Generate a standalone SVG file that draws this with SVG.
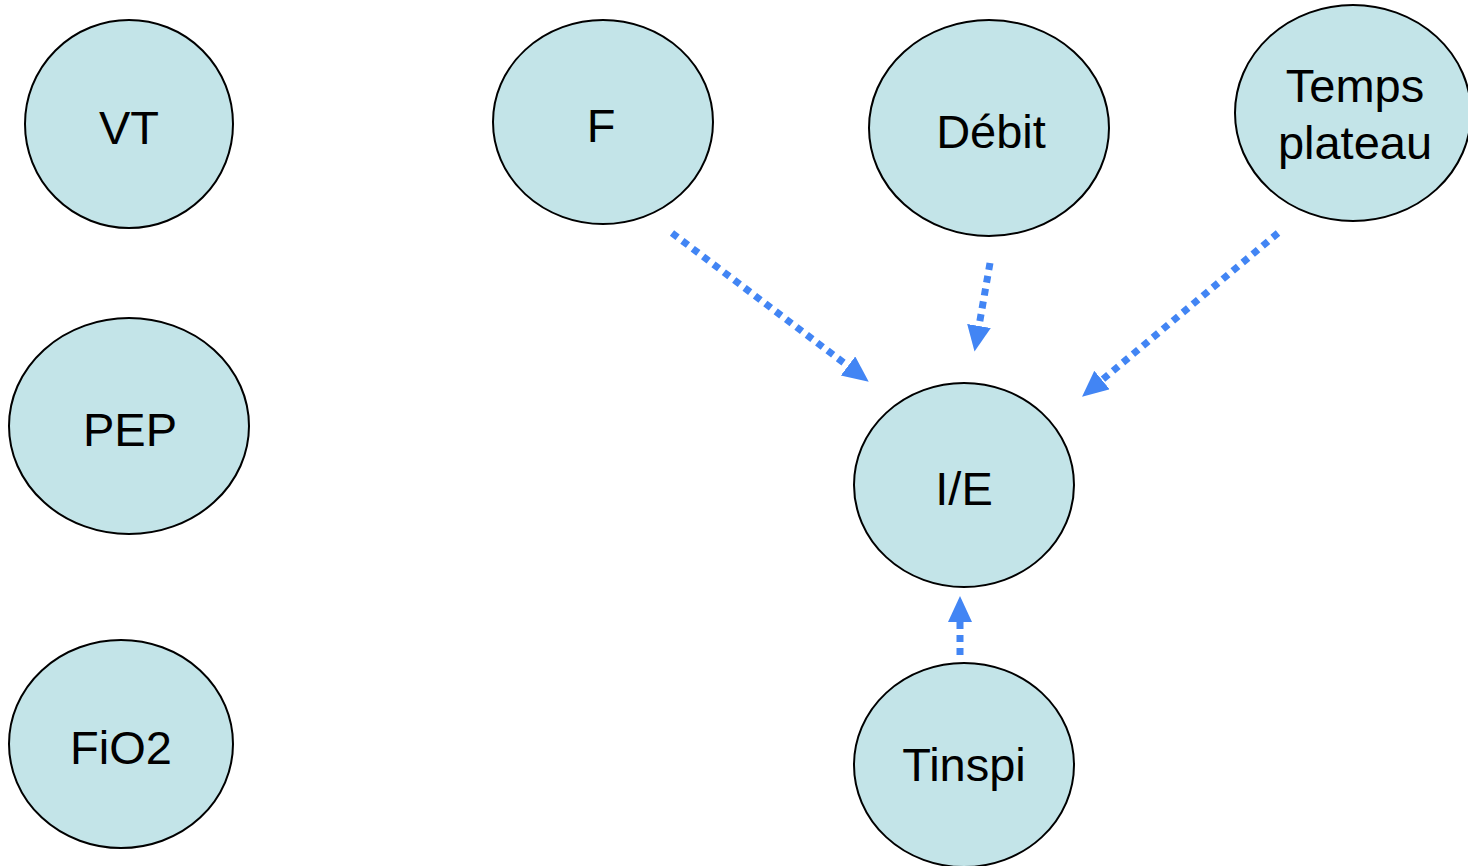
<svg xmlns="http://www.w3.org/2000/svg" width="1468" height="866" viewBox="0 0 1468 866">
  <style>
    .node ellipse { fill: #c3e4e8; stroke: #000; stroke-width: 2; }
    .node text { font-family: "Liberation Sans", Arial, sans-serif; font-size: 47px; fill: #000; text-anchor: middle; }
    .link { fill: none; stroke: #4285f4; stroke-width: 7; stroke-dasharray: 7 6; marker-end: url(#head); }
  </style>
  <defs>
    <!-- filled triangle head; each line stops at the base of its head -->
    <marker id="head" markerUnits="userSpaceOnUse" markerWidth="30" markerHeight="26" refX="0" refY="12" orient="auto">
      <path d="M0,0 L26,12 L0,24 Z" fill="#4285f4"/>
    </marker>
  </defs>
  <rect width="1468" height="866" fill="#fff"/>

  <g id="connectors">
    <path class="link" d="M672,233 L848,366"/>
    <path class="link" d="M990,263 L979,326"/>
    <path class="link" d="M1278,233 L1102,380"/>
    <path class="link" d="M960,655 L960,622"/>
  </g>

  <g id="vt" class="node">
    <ellipse cx="129" cy="124" rx="104" ry="104"/>
    <text x="129" y="144">VT</text>
  </g>
  <g id="f" class="node">
    <ellipse cx="603" cy="122" rx="110" ry="102"/>
    <text x="601" y="142">F</text>
  </g>
  <g id="debit" class="node">
    <ellipse cx="989" cy="128" rx="120" ry="108"/>
    <text x="991" y="148">Débit</text>
  </g>
  <g id="temps-plateau" class="node">
    <ellipse cx="1353" cy="113" rx="118" ry="108"/>
    <text x="1355" y="102">Temps</text>
    <text x="1355" y="159">plateau</text>
  </g>
  <g id="pep" class="node">
    <ellipse cx="129" cy="426" rx="120" ry="108"/>
    <text x="130" y="446">PEP</text>
  </g>
  <g id="ie" class="node">
    <ellipse cx="964" cy="485" rx="110" ry="102"/>
    <text x="964" y="505">I/E</text>
  </g>
  <g id="fio2" class="node">
    <ellipse cx="121" cy="744" rx="112" ry="104"/>
    <text x="121" y="764">FiO2</text>
  </g>
  <g id="tinspi" class="node">
    <ellipse cx="964" cy="765" rx="110" ry="102"/>
    <text x="964" y="781">Tinspi</text>
  </g>
</svg>
